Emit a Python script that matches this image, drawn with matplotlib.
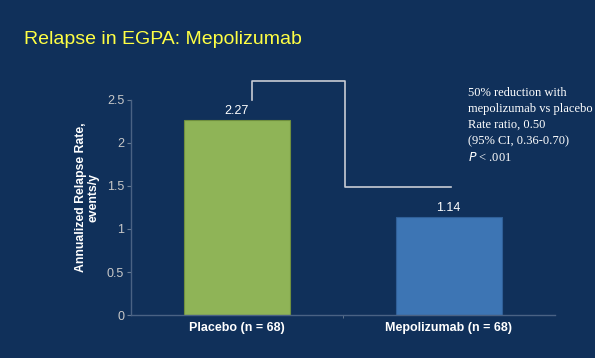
import matplotlib.pyplot as plt

# data
groups = ['Placebo (n = 68)', 'Mepolizumab (n = 68)']
rates = [2.27, 1.14]
bar_colors = ['#8fb457', '#3d75b4']
note_lines = ['50% reduction with', 'mepolizumab vs placebo', 'Rate ratio, 0.50',
              '(95% CI, 0.36-0.70)', r'$P$ < .001']

bg = '#10305a'
plt.rcParams['font.family'] = ['Liberation Sans', 'DejaVu Sans']

fig = plt.figure(figsize=(5.95, 3.58), dpi=100, facecolor=bg)
ax = fig.add_axes([0.2202, 0.1201, 0.712, 0.6006])
ax.set_facecolor(bg)

x = range(len(groups))
bars = ax.bar(x, rates, width=0.5, color=bar_colors, edgecolor=['#6f8f3e', '#2f5f98'], linewidth=0.8)
for b, v in zip(bars, rates):
    ax.text(b.get_x() + b.get_width() / 2, v + 0.03, f'{v:.2f}', ha='center', va='bottom',
            color='white', fontsize=9)

ax.set_xlim(-0.5, 1.5)
ax.set_ylim(0, 2.5)
ax.set_yticks([0, 0.5, 1, 1.5, 2, 2.5])
ax.set_yticklabels(['0', '0.5', '1', '1.5', '2', '2.5'])
ax.set_xticks(list(x))
ax.set_xticklabels(groups, fontweight='bold', color='white', fontsize=9)
ax.set_xticks([0.5], minor=True)
ax.tick_params(axis='x', which='major', length=0, pad=5)
ax.tick_params(axis='x', which='minor', length=2, color='#6a7d95')
ax.tick_params(axis='y', length=3, color='#6a7d95', labelcolor='#c8c8c8', labelsize=9, pad=2)
for s in ['top', 'right']:
    ax.spines[s].set_visible(False)
for s in ['left', 'bottom']:
    ax.spines[s].set_color('#4a6284')
    ax.spines[s].set_linewidth(1)

# y label sits a bit above the axis centre in the original
fig.text(87.5 / 595, 1 - 197.5 / 358, 'Annualized Relapse Rate,\nevents/y', color='white',
         fontweight='bold', fontsize=8.8, rotation=90, ha='center', va='center',
         linespacing=1.05)

# comparison bracket
ax.plot([0.073, 0.073, 0.508, 0.508, 1.01], [2.5, 2.72, 2.72, 1.49, 1.49],
        color='#c8ccd4', lw=1.2, clip_on=False)

# annotation text, one line at a time
for i, line in enumerate(note_lines):
    fig.text(0.786, 0.757 - i * 0.0447, line, color='white', fontsize=9,
             family='Liberation Serif', va='top', ha='left')

fig.text(0.04, 0.89, 'Relapse in EGPA: Mepolizumab', color='#ffff44', fontsize=14,
         va='center', ha='left')

fig.savefig('out.png', dpi=100, facecolor=bg)
